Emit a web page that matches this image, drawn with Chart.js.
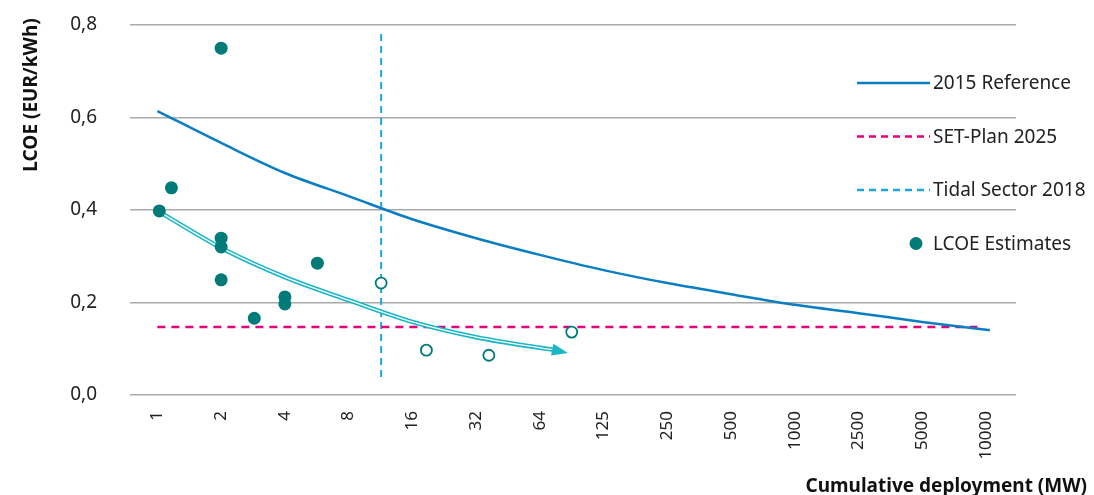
<!DOCTYPE html>
<html lang="en">
<head>
    <meta charset="UTF-8">
    <title>LCOE vs cumulative deployment</title>
    <script src="https://cdn.jsdelivr.net/npm/chart.js"></script>
    <style>
        body {
            margin: 0;
            padding: 0;
            background: #fff;
        }
        .chart-box {
            position: relative;
            width: 1094px;
            height: 495px;
        }
    </style>
</head>
<body>
    <div class="chart-box">
        <canvas id="lcoeChart"></canvas>
    </div>

    <script>
        // x axis categories (MW), one evenly spaced slot each
        const xLabels = ['1', '2', '4', '8', '16', '32', '64', '125', '250', '500', '1000', '2500', '5000', '10000'];
        const yTicks = [0, 0.2, 0.4, 0.6, 0.8];

        // 2015 reference curve, read at slot positions
        const refX = [0, 1, 2, 3, 4, 5, 6, 7, 8, 9, 10, 11, 12, 13, 13.06];
        const refY = [0.614, 0.545, 0.48, 0.43, 0.38, 0.339, 0.303, 0.27, 0.242, 0.218, 0.195, 0.177, 0.158, 0.141, 0.14];

        const setPlanX = [0, 12.95];
        const setPlanY = [0.147, 0.147];

        const tidalX = [3.51, 3.51];
        const tidalY = [0.039, 0.789];

        // learning trend (double line with arrow)
        const trendX = [0.03, 1, 2, 3, 4, 5, 6, 6.2];
        const trendY = [0.396, 0.318, 0.255, 0.205, 0.158, 0.125, 0.102, 0.098];
        const trendTip = [6.44, 0.091];

        // LCOE estimates
        const estX = [1, 0.22, 0.03, 1, 1, 1, 1.52, 2, 2, 2.51];
        const estY = [0.75, 0.448, 0.398, 0.339, 0.32, 0.249, 0.166, 0.212, 0.197, 0.285];
        const openX = [3.51, 4.22, 5.2, 6.5];
        const openY = [0.242, 0.097, 0.086, 0.136];

        const legendItems = [
            { label: '2015 Reference', kind: 'line', color: '#0a7ec2', dash: [] },
            { label: 'SET-Plan 2025', kind: 'line', color: '#e6007e', dash: [7, 5] },
            { label: 'Tidal Sector 2018', kind: 'line', color: '#1ea5e0', dash: [7, 5] },
            { label: 'LCOE Estimates', kind: 'dot', color: '#007b78' }
        ];

        const pts = (xs, ys) => xs.map((x, i) => ({ x: x, y: ys[i] }));
        const FONT = '"Noto Sans", "DejaVu Sans", sans-serif';

        const extras = {
            id: 'extras',
            afterDatasetsDraw(chart) {
                const ctx = chart.ctx;
                const xs = chart.scales.x, ys = chart.scales.y;
                // arrow head at end of trend line
                const lx = xs.getPixelForValue(trendX[trendX.length - 1]);
                const ly = ys.getPixelForValue(trendY[trendY.length - 1]);
                const tx = xs.getPixelForValue(trendTip[0]);
                const ty = ys.getPixelForValue(trendTip[1]);
                const ang = Math.atan2(ty - ly, tx - lx);
                ctx.save();
                ctx.fillStyle = '#1ab5c6';
                ctx.beginPath();
                ctx.moveTo(tx, ty);
                ctx.lineTo(tx - 16 * Math.cos(ang) + 6 * Math.sin(ang), ty - 16 * Math.sin(ang) - 6 * Math.cos(ang));
                ctx.lineTo(tx - 16 * Math.cos(ang) - 6 * Math.sin(ang), ty - 16 * Math.sin(ang) + 6 * Math.cos(ang));
                ctx.closePath();
                ctx.fill();
                ctx.restore();
            },
            afterDraw(chart) {
                const ctx = chart.ctx;
                ctx.save();
                // legend
                ctx.font = '19px ' + FONT;
                ctx.textBaseline = 'middle';
                legendItems.forEach((item, i) => {
                    const y = 83 + i * 53.5;
                    if (item.kind === 'line') {
                        ctx.strokeStyle = item.color;
                        ctx.lineWidth = 2.5;
                        ctx.setLineDash(item.dash);
                        ctx.beginPath();
                        ctx.moveTo(857, y);
                        ctx.lineTo(930, y);
                        ctx.stroke();
                        ctx.setLineDash([]);
                    } else {
                        ctx.fillStyle = item.color;
                        ctx.beginPath();
                        ctx.arc(916, y, 6.5, 0, Math.PI * 2);
                        ctx.fill();
                    }
                    ctx.fillStyle = '#222';
                    ctx.textAlign = 'left';
                    ctx.fillText(item.label, 933, y + 1);
                });
                // axis titles
                ctx.font = 'bold 19px ' + FONT;
                ctx.fillStyle = '#111';
                ctx.textAlign = 'right';
                ctx.textBaseline = 'alphabetic';
                ctx.fillText('Cumulative deployment (MW)', 1087, 492);
                ctx.translate(37, 95);
                ctx.rotate(-Math.PI / 2);
                ctx.textAlign = 'center';
                ctx.fillText('LCOE (EUR/kWh)', 0, 0);
                ctx.restore();
            }
        };

        const ctx = document.getElementById('lcoeChart').getContext('2d');
        const lcoeChart = new Chart(ctx, {
            type: 'scatter',
            data: {
                datasets: [
                    {
                        label: 'LCOE Estimates',
                        data: pts(estX, estY),
                        backgroundColor: '#007b78',
                        borderWidth: 0,
                        pointRadius: 6.5,
                        order: 0
                    },
                    {
                        label: 'Projects',
                        data: pts(openX, openY),
                        backgroundColor: '#ffffff',
                        borderColor: '#007b78',
                        borderWidth: 1.8,
                        pointRadius: 5.5,
                        order: 0
                    },
                    {
                        label: 'trend inner',
                        data: pts(trendX, trendY),
                        showLine: true,
                        borderColor: '#ffffff',
                        borderWidth: 1.3,
                        pointRadius: 0,
                        cubicInterpolationMode: 'monotone',
                        order: 1
                    },
                    {
                        label: 'trend outer',
                        data: pts(trendX, trendY),
                        showLine: true,
                        borderColor: '#1ab5c6',
                        borderWidth: 4.5,
                        pointRadius: 0,
                        cubicInterpolationMode: 'monotone',
                        order: 2
                    },
                    {
                        label: '2015 Reference',
                        data: pts(refX, refY),
                        showLine: true,
                        borderColor: '#0a7ec2',
                        borderWidth: 2.5,
                        pointRadius: 0,
                        cubicInterpolationMode: 'monotone',
                        order: 3
                    },
                    {
                        label: 'SET-Plan 2025',
                        data: pts(setPlanX, setPlanY),
                        showLine: true,
                        borderColor: '#e6007e',
                        borderWidth: 2.5,
                        borderDash: [8, 6],
                        pointRadius: 0,
                        order: 4
                    },
                    {
                        label: 'Tidal Sector 2018',
                        data: pts(tidalX, tidalY),
                        showLine: true,
                        borderColor: '#1ea5e0',
                        borderWidth: 2,
                        borderDash: [7, 5],
                        pointRadius: 0,
                        order: 5
                    }
                ]
            },
            options: {
                responsive: true,
                maintainAspectRatio: false,
                animation: false,
                layout: { padding: { left: 0, right: 78, top: 25, bottom: 0 } },
                plugins: {
                    legend: { display: false },
                    tooltip: { enabled: false }
                },
                scales: {
                    x: {
                        type: 'linear',
                        min: -0.43,
                        max: 13.47,
                        grid: { display: false },
                        border: { display: false },
                        afterBuildTicks(axis) {
                            axis.ticks = xLabels.map((_, i) => ({ value: i }));
                        },
                        afterFit(axis) {
                            axis.height = 100;
                            axis.paddingLeft = 0;
                            axis.paddingRight = 0;
                        },
                        ticks: {
                            minRotation: 90,
                            maxRotation: 90,
                            autoSkip: false,
                            padding: 8,
                            color: '#222',
                            font: { family: FONT, size: 17 },
                            callback: (v) => xLabels[Math.round(v)]
                        }
                    },
                    y: {
                        min: 0,
                        max: 0.8,
                        afterBuildTicks(axis) {
                            axis.ticks = yTicks.map(v => ({ value: v }));
                        },
                        afterFit(axis) {
                            axis.width = 130;
                            axis.paddingTop = 0;
                            axis.paddingBottom = 0;
                        },
                        grid: { color: '#aaaaaa', lineWidth: 1.5, drawTicks: false },
                        border: { display: false },
                        ticks: {
                            padding: 33,
                            color: '#222',
                            font: { family: FONT, size: 19 },
                            callback: (v) => v.toFixed(1).replace('.', ',')
                        }
                    }
                }
            },
            plugins: [extras]
        });
    </script>
</body>
</html>
